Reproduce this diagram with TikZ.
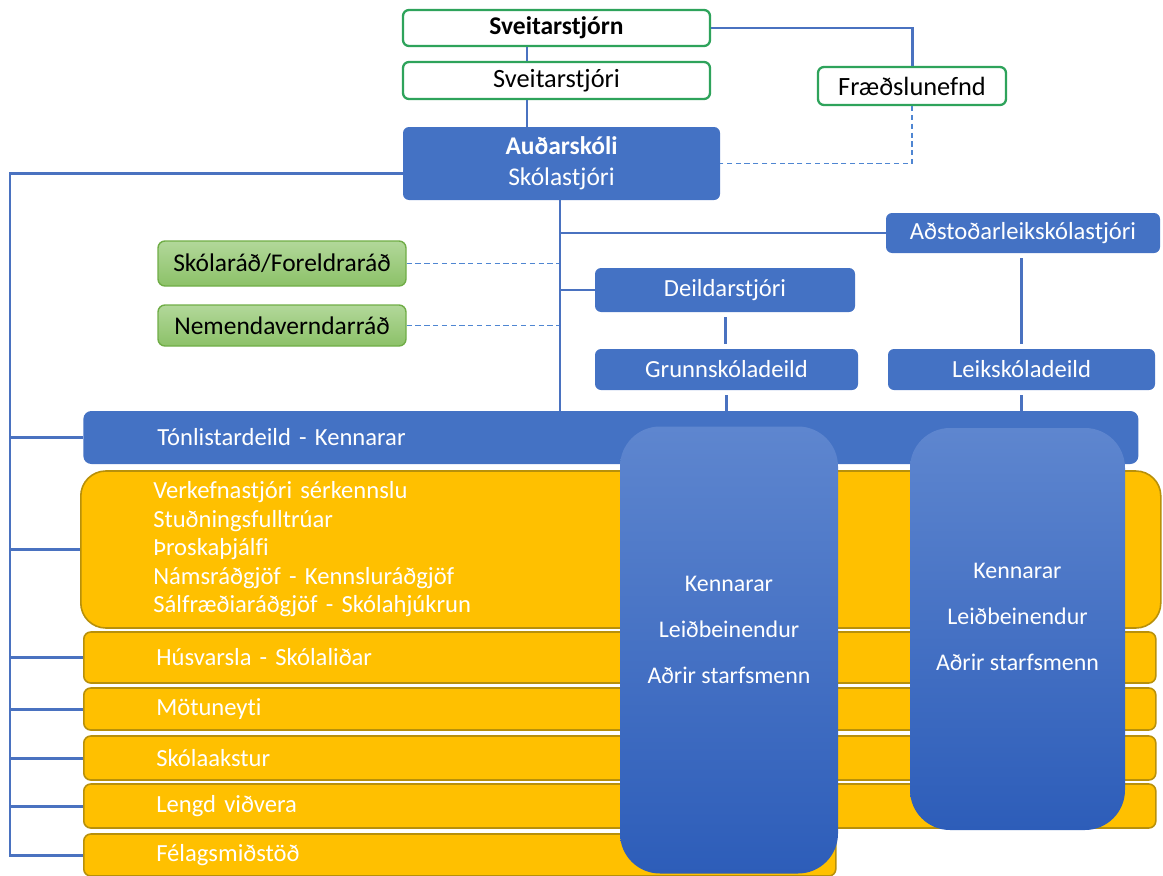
\documentclass[tikz,border=0pt]{standalone}
\usepackage{fontspec}
\setmainfont{Carlito}[Ligatures=NoCommon]
\usetikzlibrary{positioning,calc}
\definecolor{orgblue}{HTML}{4472C4}
\definecolor{linkblue}{HTML}{4A72C0}
\definecolor{dashblue}{HTML}{4F86D2}
\definecolor{boardgreen}{HTML}{2EA35B}
\definecolor{councillight}{HTML}{B2D89A}
\definecolor{councildark}{HTML}{8CC168}
\definecolor{counciledge}{HTML}{70AD47}
\definecolor{staffyellow}{HTML}{FFC000}
\definecolor{staffedge}{HTML}{B8900A}
\definecolor{coltop}{HTML}{5E86CF}
\definecolor{colbot}{HTML}{2D5DB9}
\tikzset{font=\fontsize{14}{16.5}\selectfont,
	board/.style={draw=boardgreen, line width=1.3pt, fill=white, rounded corners=0.12cm, text=black, font=\fontsize{15}{17}\selectfont},
	unit/.style={fill=orgblue, rounded corners=0.12cm, text=white},
	council/.style={draw=counciledge, line width=0.8pt, top color=councillight, bottom color=councildark, rounded corners=0.14cm, text=black},
	staff/.style={draw=staffedge, line width=0.9pt, fill=staffyellow, rounded corners=0.14cm, text=white, align=left, anchor=west, inner xsep=1.45cm},
	column/.style={top color=coltop, bottom color=colbot, rounded corners=0.8cm},
	coltext/.style={text=white, align=center, font=\fontsize{13.6}{26}\selectfont},
	link/.style={draw=linkblue, line width=1.7pt},
	dlink/.style={draw=dashblue, line width=0.9pt, dash pattern=on 3pt off 2pt}}

\begin{document}
\begin{tikzpicture}
	\useasboundingbox (0,0) rectangle (23.26,-17.52);
	\tikzstyle{every node}=[inner sep=0pt]

	\node[board, minimum width=6.14cm, minimum height=0.72cm, font=\fontsize{14.5}{17}\selectfont] (sveitarstjorn) at (11.13,-0.56) {\textbf{Sveitarstjórn}};
	\node[board, minimum width=6.14cm, minimum height=0.74cm] (sveitarstjori) at (11.13,-1.61) {Sveitarstjóri};
	\node[board, minimum width=3.76cm, minimum height=0.76cm] (fraedslunefnd) at (18.24,-1.72) {Fræðslunefnd};
	\node[unit, minimum width=6.34cm, minimum height=1.46cm, align=center, font=\fontsize{14.5}{17.6}\selectfont] (audarskoli) at (11.23,-3.27) {\textbf{Auðarskóli}\\Skólastjóri};

	\node[unit, minimum width=5.48cm, minimum height=0.8cm] (adstod) at (20.46,-4.66) {Aðstoðarleikskólastjóri};
	\node[unit, minimum width=5.2cm, minimum height=0.88cm] (deildar) at (14.5,-5.8) {Deildarstjóri};
	\node[unit, minimum width=5.26cm, minimum height=0.82cm] (grunn) at (14.53,-7.39) {Grunnskóladeild};
	\node[unit, minimum width=5.34cm, minimum height=0.82cm] (leik) at (20.43,-7.39) {Leikskóladeild};

	\node[council, minimum width=4.96cm, minimum height=0.9cm, font=\fontsize{14.5}{17}\selectfont] (skolarad) at (5.64,-5.27) {Skólaráð/Foreldraráð};
	\node[council, minimum width=4.96cm, minimum height=0.82cm, font=\fontsize{14.5}{17}\selectfont] (nemenda) at (5.64,-6.51) {Nemendaverndarráð};

	\coordinate (spine) at (10.54,0);
	\coordinate (axis) at (11.2,0);
	\coordinate (trunk) at (0.2,-3.46);

	\draw[link] (sveitarstjorn.south -| spine) -- (sveitarstjori.north -| spine);
	\draw[link] (sveitarstjori.south -| spine) -- (audarskoli.north -| spine);
	\draw[link] (sveitarstjorn.east) -| (fraedslunefnd.north);
	\draw[dlink] (fraedslunefnd.south) |- (audarskoli.east);
	\draw[dlink] (skolarad.east) -- (skolarad.east -| axis);
	\draw[dlink] (nemenda.east) -- (nemenda.east -| axis);
	\draw[link] (adstod.west) -- (adstod.west -| axis);
	\draw[link] (deildar.west) -- (deildar.west -| axis);
	\draw[link, shorten <=0.1cm, shorten >=0.1cm] (deildar.south) -- (deildar.south |- grunn.north);
	\draw[link, shorten <=0.1cm, shorten >=0.1cm] (leik.north) -- (leik.north |- adstod.south);

	\node[unit, anchor=west, minimum height=1.06cm, text width=18.14cm, align=left, inner xsep=1.48cm, rounded corners=0.16cm] (tonlist) at (1.66,-8.75) {Tónlistardeild - Kennarar};
	\draw[link] (audarskoli.south -| axis) -- (tonlist.north -| axis);
	\draw[link, shorten <=0.1cm] (grunn.south) -- (grunn.south |- tonlist.north);
	\draw[link, shorten <=0.1cm] (leik.south) -- (leik.south |- tonlist.north);

	\node[staff, text width=18.7cm, minimum height=3.14cm, rounded corners=0.5cm, font=\fontsize{14}{16.2}\selectfont] (support) at (1.6,-10.99) {Verkefnastjóri sérkennslu\\Stuðningsfulltrúar\\Þroskaþjálfi\\Námsráðgjöf - Kennsluráðgjöf\\Sálfræðiaráðgjöf - Skólahjúkrun};
	\node[staff, text width=18.54cm, minimum height=1.02cm] (husvarsla) at (1.66,-13.15) {Húsvarsla - Skólaliðar};
	\node[staff, text width=18.54cm, minimum height=0.84cm] (motuneyti) at (1.66,-14.18) {Mötuneyti};
	\node[staff, text width=18.54cm, minimum height=0.88cm] (akstur) at (1.66,-15.16) {Skólaakstur};
	\node[staff, text width=18.54cm, minimum height=0.88cm] (lengd) at (1.66,-16.12) {Lengd viðvera};
	\node[staff, text width=12.14cm, minimum height=0.84cm] (felag) at (1.66,-17.1) {Félagsmiðstöð};

	\draw[link] ([yshift=-0.2cm]audarskoli.west) -| (trunk |- felag.west) -- (felag.west);
	\foreach \n in {tonlist, support, husvarsla, motuneyti, akstur, lengd}
		\draw[link] (trunk |- \n.west) -- (\n.west);

	\node[column, minimum width=4.36cm, minimum height=8.94cm] (grunnstaff) at (14.58,-13.0) {};
	\node[coltext] (grunnlist) at ([yshift=0.4cm]grunnstaff.center) {Kennarar\\Leiðbeinendur\\Aðrir starfsmenn};
	\node[column, minimum width=4.3cm, minimum height=8.04cm] (leikstaff) at (20.35,-12.58) {};
	\node[coltext] (leiklist) at ([yshift=0.24cm]leikstaff.center) {Kennarar\\Leiðbeinendur\\Aðrir starfsmenn};
\end{tikzpicture}
\end{document}
